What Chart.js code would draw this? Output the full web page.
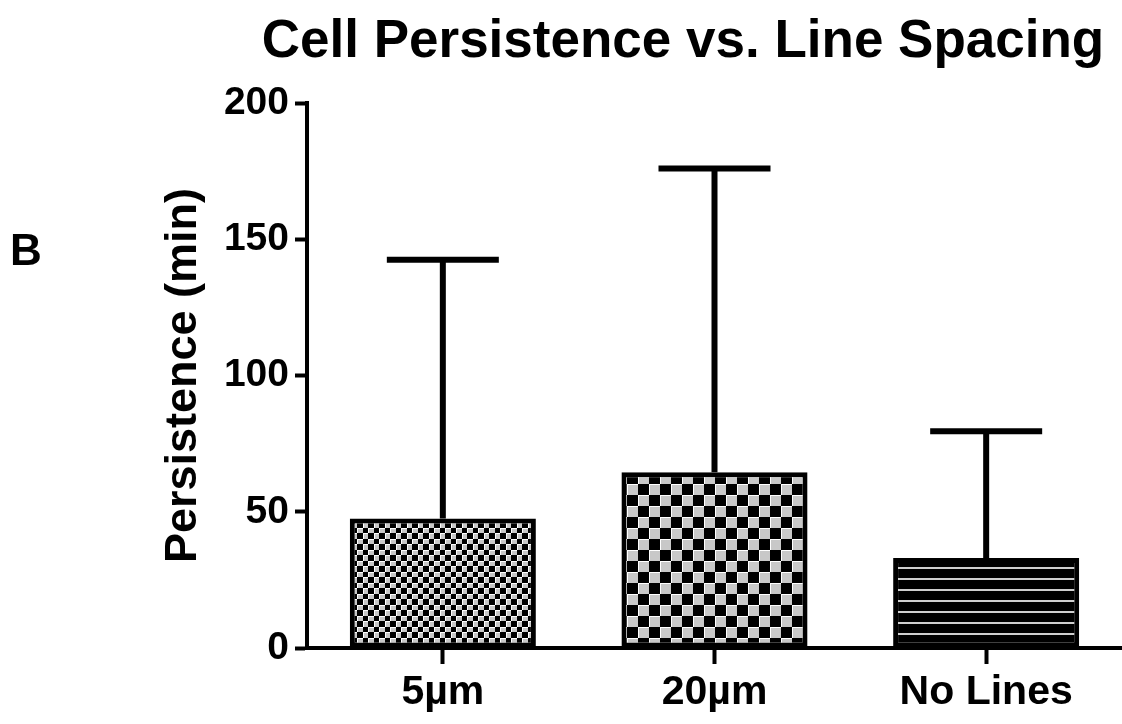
<!DOCTYPE html>
<html>
<head>
<meta charset="utf-8">
<script src="https://cdn.jsdelivr.net/npm/chart.js@4.4.1/dist/chart.umd.min.js"></script>
<style>
  html, body { margin: 0; padding: 0; background: #fff; }
  #wrap { width: 1122px; height: 724px; position: relative; }
</style>
</head>
<body>
<div id="wrap"><canvas id="c" width="1122" height="724"></canvas></div>
<script>
// ---- data ----
const categories = ['5\u00b5m', '20\u00b5m', 'No Lines'];
const meanValues = [47.5, 64.5, 33];
const upperErrors = [95, 111.5, 46.5];
const yTickValues = [0, 50, 100, 150, 200];
const chartTitle = 'Cell Persistence vs. Line Spacing';
const yAxisTitle = 'Persistence (min)';
const panelLabel = 'B';

const FONT = '"Liberation Sans", Arial, sans-serif';

// ---- fill patterns ----
function makeCanvas(w, h) {
  const c = document.createElement('canvas');
  c.width = w; c.height = h;
  return c;
}
function checkerPattern(cellA, cellB) {
  const size = cellA + cellB;
  const c = makeCanvas(size, size);
  const g = c.getContext('2d');
  g.fillStyle = '#ffffff';
  g.fillRect(0, 0, size, size);
  const edges = [[0, cellA], [cellA, cellB]];
  for (let i = 0; i < 2; i++) {
    for (let j = 0; j < 2; j++) {
      const [x, w] = edges[i];
      const [y, h] = edges[j];
      if ((i + j) % 2 === 0) {
        g.fillStyle = '#000000';
        g.fillRect(x, y, w, h);
      } else {
        g.fillStyle = '#c8c8c8';
        g.fillRect(x + 1, y + 1, w - 1, h - 1);
      }
    }
  }
  return g.createPattern(c, 'repeat');
}
function stripePattern() {
  const c = makeCanvas(4, 11);
  const g = c.getContext('2d');
  g.fillStyle = '#000000';
  g.fillRect(0, 0, 4, 11);
  g.fillStyle = '#cfcfcf';
  g.fillRect(0, 6, 4, 2);
  return g.createPattern(c, 'repeat');
}

const fills = [checkerPattern(5, 6), checkerPattern(11, 11), stripePattern()];

// ---- error bars plugin ----
const errorBars = {
  id: 'errorBars',
  afterDatasetsDraw(chart) {
    const ctx = chart.ctx;
    const meta = chart.getDatasetMeta(0);
    const y = chart.scales.y;
    ctx.save();
    ctx.strokeStyle = '#000';
    ctx.lineWidth = 6;
    ctx.lineCap = 'butt';
    meta.data.forEach((bar, i) => {
      const x = bar.x;
      const yTop = y.getPixelForValue(meanValues[i] + upperErrors[i]);
      const yBase = y.getPixelForValue(meanValues[i]);
      ctx.beginPath();
      ctx.moveTo(x, yBase);
      ctx.lineTo(x, yTop);
      ctx.stroke();
      ctx.beginPath();
      ctx.moveTo(x - 56, yTop);
      ctx.lineTo(x + 56, yTop);
      ctx.stroke();
    });
    ctx.restore();
  }
};

// ---- title + panel label plugin ----
const texts = {
  id: 'texts',
  afterDraw(chart) {
    const ctx = chart.ctx;
    ctx.save();
    ctx.fillStyle = '#000';
    ctx.textAlign = 'center';
    ctx.textBaseline = 'alphabetic';
    ctx.font = 'bold 53px ' + FONT;
    ctx.fillText(chartTitle, 683, 57);
    ctx.textAlign = 'left';
    ctx.font = 'bold 44px ' + FONT;
    ctx.fillText(panelLabel, 10, 265);
    ctx.restore();
  }
};

new Chart(document.getElementById('c'), {
  type: 'bar',
  data: {
    labels: categories,
    datasets: [{
      data: meanValues,
      backgroundColor: fills,
      borderColor: '#000',
      borderWidth: 5,
      borderSkipped: false,
      barPercentage: 0.685,
      categoryPercentage: 1.0
    }]
  },
  plugins: [errorBars, texts],
  options: {
    responsive: false,
    devicePixelRatio: 1,
    animation: false,
    layout: { padding: { left: 150, right: 0, top: 103, bottom: 0 } },
    plugins: {
      legend: { display: false },
      tooltip: { enabled: false },
      title: { display: false }
    },
    scales: {
      x: {
        offset: true,
        grid: {
          display: true,
          offset: false,
          drawOnChartArea: false,
          drawTicks: true,
          tickLength: 16,
          tickWidth: 4,
          color: '#000'
        },
        border: { display: true, width: 4, color: '#000' },
        ticks: {
          color: '#000',
          padding: 4,
          font: { family: FONT, size: 41, weight: 'bold' }
        },
        afterFit(scale) { scale.height = 76; }
      },
      y: {
        min: 0,
        max: 200,
        afterBuildTicks(scale) { scale.ticks = yTickValues.map(v => ({ value: v })); },
        grid: {
          display: true,
          drawOnChartArea: false,
          drawTicks: true,
          tickLength: 12,
          tickWidth: 4,
          color: '#000'
        },
        border: { display: true, width: 4, color: '#000' },
        ticks: {
          color: '#000',
          padding: 6,
          font: { family: FONT, size: 39, weight: 'bold' }
        },
        title: {
          display: true,
          text: yAxisTitle,
          color: '#000',
          padding: { top: 7, bottom: 0 },
          font: { family: FONT, size: 45, weight: 'bold' }
        },
        afterFit(scale) { scale.width = 157; }
      }
    }
  }
});
</script>
</body>
</html>
